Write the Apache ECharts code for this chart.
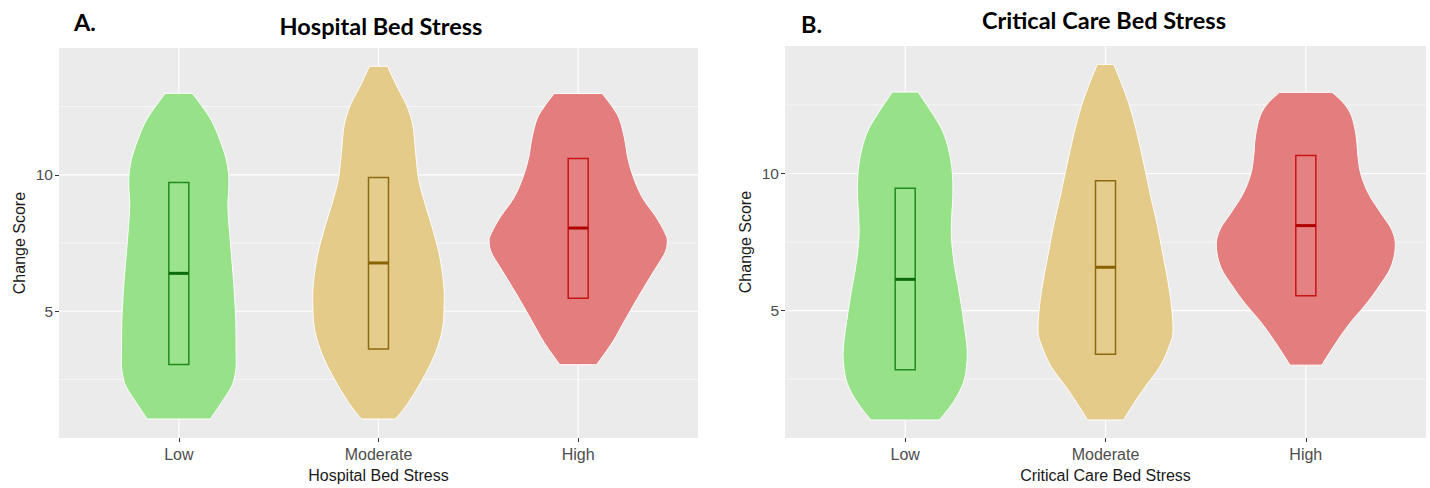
<!DOCTYPE html>
<html>
<head>
<meta charset="utf-8">
<script src="https://cdn.jsdelivr.net/npm/echarts@6/dist/echarts.min.js"></script>
<style>html,body{margin:0;padding:0;background:#fff;}#c{width:1430px;height:488px;}</style>
</head>
<body>
<div id="c"></div>
<script>
// ---------- data ----------
const categories = ['Low', 'Moderate', 'High'];
const yMajorTicks = [5, 10];
const yMinorGrid = [2.5, 7.5, 12.5];

// Panel A: Hospital Bed Stress — violin profiles (value, half-width in category units)
const hospLowY = [12.99, 12.05, 11.21, 10.48, 9.76, 8.92, 8.19, 7.11, 5.91, 4.70, 3.49, 2.89, 2.29, 1.69, 1.05];
const hospLowW = [0.068, 0.159, 0.209, 0.240, 0.251, 0.246, 0.251, 0.263, 0.276, 0.285, 0.287, 0.286, 0.267, 0.217, 0.158];
const hospModY = [13.98, 13.25, 12.53, 11.81, 10.96, 10.36, 9.76, 8.92, 7.95, 6.99, 6.02, 5.30, 4.34, 3.38, 2.41, 1.57, 1.05];
const hospModW = [0.045, 0.092, 0.142, 0.172, 0.184, 0.192, 0.203, 0.234, 0.274, 0.307, 0.326, 0.329, 0.320, 0.280, 0.213, 0.142, 0.085];
const hospHighY = [12.98, 12.53, 12.05, 11.33, 10.60, 9.88, 9.16, 8.44, 7.83, 7.53, 7.11, 6.39, 5.54, 4.70, 3.86, 3.04];
const hospHighW = [0.120, 0.167, 0.206, 0.232, 0.249, 0.278, 0.322, 0.391, 0.437, 0.446, 0.432, 0.372, 0.302, 0.236, 0.171, 0.092];
const hospQ1 = [3.05, 3.62, 5.48];
const hospMedian = [6.39, 6.77, 8.05];
const hospQ3 = [9.72, 9.90, 10.60];

// Panel B: Critical Care Bed Stress
const critLowY = [12.97, 12.22, 11.56, 10.84, 10.06, 9.22, 8.38, 7.66, 6.70, 5.74, 4.67, 3.71, 3.10, 2.38, 1.67, 1.01];
const critLowW = [0.064, 0.133, 0.186, 0.218, 0.235, 0.238, 0.232, 0.231, 0.245, 0.268, 0.291, 0.308, 0.308, 0.291, 0.241, 0.171];
const critModY = [13.98, 13.30, 12.58, 11.74, 10.90, 10.06, 9.10, 8.14, 7.18, 6.22, 5.26, 4.31, 3.82, 2.99, 2.15, 1.43, 1.01];
const critModW = [0.041, 0.079, 0.115, 0.148, 0.175, 0.200, 0.228, 0.258, 0.283, 0.308, 0.328, 0.337, 0.324, 0.274, 0.191, 0.125, 0.090];
const critHighY = [12.96, 12.58, 12.10, 11.38, 10.66, 10.00, 9.28, 8.56, 7.96, 7.36, 6.58, 5.86, 5.26, 4.54, 3.82, 3.01];
const critHighW = [0.131, 0.187, 0.228, 0.251, 0.260, 0.274, 0.312, 0.374, 0.428, 0.447, 0.424, 0.363, 0.303, 0.220, 0.150, 0.079];
const critQ1 = [2.84, 3.41, 5.54];
const critMedian = [6.14, 6.58, 8.10];
const critQ3 = [9.46, 9.74, 10.66];

// ---------- styling ----------
const fills = ['#97E289', '#E4CB8A', '#E37D7E'];
const boxStroke = ['#1F8A1F', '#8C6A12', '#C71515'];
const medStroke = ['#0B6A0B', '#8A6206', '#B00000'];
const BOX_HALF = 0.05;
const SANS = "'Liberation Sans', Arial, sans-serif";

const chart = echarts.init(document.getElementById('c'), null, {renderer: 'svg'});

// Catmull-Rom rendering of a side outline (pixel space, from library coords)
function splineSide(pts, out) {
  const n = pts.length;
  const SUB = 8;
  for (let i = 0; i < n - 1; i++) {
    const p0 = pts[Math.max(0, i - 1)], p1 = pts[i], p2 = pts[i + 1], p3 = pts[Math.min(n - 1, i + 2)];
    for (let s = 0; s < SUB; s++) {
      const t = s / SUB, t2 = t * t, t3 = t2 * t;
      const f = (a, b, c, d) => 0.5 * ((2 * b) + (-a + c) * t + (2 * a - 5 * b + 4 * c - d) * t2 + (-a + 3 * b - 3 * c + d) * t3);
      out.push([f(p0[0], p1[0], p2[0], p3[0]), f(p0[1], p1[1], p2[1], p3[1])]);
    }
  }
  out.push(pts[n - 1]);
}

function gridSeries(idx) {
  return {
    type: 'custom', xAxisIndex: idx, yAxisIndex: idx, z: 1, silent: true,
    data: [[1, 1]],
    renderItem: function (params, api) {
      const cs = params.coordSys;
      const children = [];
      yMinorGrid.forEach(v => {
        const p = api.coord([1, v]);
        children.push({type: 'line', shape: {x1: cs.x, y1: p[1], x2: cs.x + cs.width, y2: p[1]}, style: {stroke: '#FFFFFF', lineWidth: 0.6}});
      });
      yMajorTicks.forEach(v => {
        const p = api.coord([1, v]);
        children.push({type: 'line', shape: {x1: cs.x, y1: p[1], x2: cs.x + cs.width, y2: p[1]}, style: {stroke: '#FFFFFF', lineWidth: 1.2}});
      });
      categories.forEach((c, i) => {
        const p = api.coord([i + 1, 1]);
        children.push({type: 'line', shape: {x1: p[0], y1: cs.y, x2: p[0], y2: cs.y + cs.height}, style: {stroke: '#FFFFFF', lineWidth: 1.2}});
      });
      return {type: 'group', children: children};
    }
  };
}

function violinSeries(idx, Ys, Ws) {
  return {
    type: 'custom', xAxisIndex: idx, yAxisIndex: idx, z: 2, silent: true,
    data: categories.map((c, i) => [i + 1, Ys[i][0]]),
    renderItem: function (params, api) {
      const i = params.dataIndex;
      const cx = i + 1;
      const Y = Ys[i], W = Ws[i];
      const right = [], left = [];
      for (let k = 0; k < Y.length; k++) right.push(api.coord([cx + W[k], Y[k]]));
      for (let k = Y.length - 1; k >= 0; k--) left.push(api.coord([cx - W[k], Y[k]]));
      const pts = [];
      splineSide(right, pts);
      splineSide(left, pts);
      return {type: 'polygon', shape: {points: pts}, style: {fill: fills[i], stroke: '#FFFFFF', lineWidth: 1, lineJoin: 'miter'}};
    }
  };
}

function boxSeries(idx, q1, med, q3) {
  return {
    type: 'custom', xAxisIndex: idx, yAxisIndex: idx, z: 3, silent: true,
    data: categories.map((c, i) => [i + 1, q1[i], med[i], q3[i]]),
    renderItem: function (params, api) {
      const i = params.dataIndex;
      const cx = api.value(0);
      const tl = api.coord([cx - BOX_HALF, api.value(3)]);
      const br = api.coord([cx + BOX_HALF, api.value(1)]);
      const m = api.coord([cx, api.value(2)]);
      return {type: 'group', children: [
        {type: 'rect', shape: {x: tl[0], y: tl[1], width: br[0] - tl[0], height: br[1] - tl[1]},
         style: {fill: 'rgba(255,255,255,0.04)', stroke: boxStroke[i], lineWidth: 1.5}},
        {type: 'line', shape: {x1: tl[0], y1: m[1], x2: br[0], y2: m[1]}, style: {stroke: medStroke[i], lineWidth: 3}}
      ]};
    }
  };
}

function xAxis(idx, name) {
  return {
    type: 'value', gridIndex: idx, min: 0.4, max: 3.6,
    name: name, nameLocation: 'middle', nameGap: 28,
    nameTextStyle: {fontFamily: SANS, fontSize: 16, color: '#1A1A1A'},
    axisLine: {show: false}, splitLine: {show: false},
    axisTick: {show: true, customValues: [1, 2, 3], length: 4, lineStyle: {color: '#333333', width: 1}},
    axisLabel: {show: true, customValues: [1, 2, 3], margin: 8, fontFamily: SANS, fontSize: 16, color: '#4D4D4D',
      formatter: v => categories[Math.round(v) - 1] || ''}
  };
}
function yAxis(idx) {
  return {
    type: 'value', gridIndex: idx, min: 0.35, max: 14.65,
    name: 'Change Score', nameLocation: 'middle', nameGap: 32, nameRotate: 90,
    nameTextStyle: {fontFamily: SANS, fontSize: 16, color: '#1A1A1A'},
    axisLine: {show: false}, splitLine: {show: false},
    axisTick: {show: true, customValues: yMajorTicks, length: 4, lineStyle: {color: '#333333', width: 1}},
    axisLabel: {show: true, customValues: yMajorTicks, margin: 6, fontFamily: SANS, fontSize: 15.5, color: '#4D4D4D'}
  };
}

const titleFont = {fontFamily: 'Lato', fontWeight: 'bold', fontSize: 23.5, fill: '#000000'};

chart.setOption({
  animation: false,
  backgroundColor: '#FFFFFF',
  grid: [
    {left: 59, top: 48, width: 639, height: 395, show: true, backgroundColor: '#EBEBEB', borderWidth: 0},
    {left: 785, top: 46, width: 641, height: 397, show: true, backgroundColor: '#EBEBEB', borderWidth: 0}
  ],
  xAxis: [xAxis(0, 'Hospital Bed Stress'), xAxis(1, 'Critical Care Bed Stress')],
  yAxis: [yAxis(0), yAxis(1)],
  graphic: [
    {type: 'text', style: Object.assign({text: 'A.', x: 74, y: 22, textAlign: 'left', textVerticalAlign: 'middle'}, titleFont)},
    {type: 'text', style: Object.assign({text: 'Hospital Bed Stress', x: 381, y: 26, textAlign: 'center', textVerticalAlign: 'middle'}, titleFont)},
    {type: 'text', style: Object.assign({text: 'B.', x: 801, y: 24, textAlign: 'left', textVerticalAlign: 'middle'}, titleFont)},
    {type: 'text', style: Object.assign({text: 'Critical Care Bed Stress', x: 1104, y: 20, textAlign: 'center', textVerticalAlign: 'middle'}, titleFont)}
  ],
  series: [
    gridSeries(0), gridSeries(1),
    violinSeries(0, [hospLowY, hospModY, hospHighY], [hospLowW, hospModW, hospHighW]),
    violinSeries(1, [critLowY, critModY, critHighY], [critLowW, critModW, critHighW]),
    boxSeries(0, hospQ1, hospMedian, hospQ3),
    boxSeries(1, critQ1, critMedian, critQ3)
  ]
});
</script>
</body>
</html>
